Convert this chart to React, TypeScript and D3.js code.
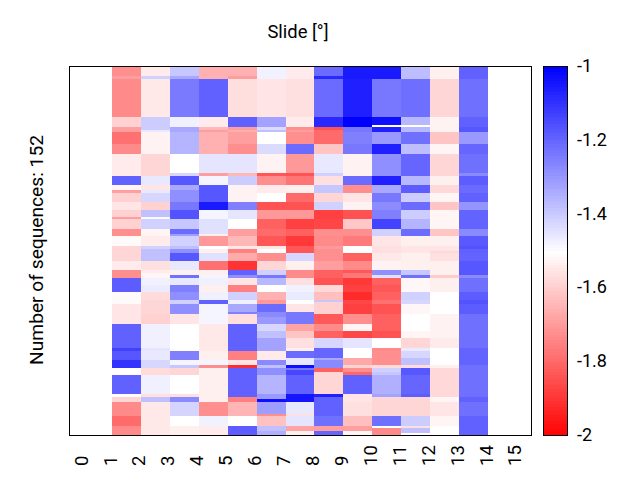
import React from "react";
import * as d3 from "d3";

// Each column: runs of [row index where the run ends, value]
const col1 = [[4,-1.72],[5,-1.69],[21,-1.73],[25,-1.59],[27,-1.69],[32,-1.78],[36,-1.73],[45,-1.54],[49,-1.19],[51,-1.52],[52,-1.69],[56,-1.59],[59,-1.55],[62,-1.59],[63,-1.69],[67,-1.59],[70,-1.72],[74,-1.51],[80,-1.58],[84,-1.54],[87,-1.72],[93,-1.18],[98,-1.51],[106,-1.55],[116,-1.19],[117,-1.125],[121,-1.17],[124,-1.1],[127,-1.5],[135,-1.19],[136,-1.5],[138,-1.58],[144,-1.73],[148,-1.79],[152,-1.73]];
const col2 = [[4,-1.54],[5,-1.41],[21,-1.545],[26,-1.4],[27,-1.455],[36,-1.525],[45,-1.58],[49,-1.455],[51,-1.55],[52,-1.455],[56,-1.42],[59,-1.59],[62,-1.376],[63,-1.49],[67,-1.41],[70,-1.52],[74,-1.54],[75,-1.41],[80,-1.376],[84,-1.56],[85,-1.54],[87,-1.52],[90,-1.47],[93,-1.46],[96,-1.57],[102,-1.58],[106,-1.59],[116,-1.47],[117,-1.45],[121,-1.455],[124,-1.42],[127,-1.57],[135,-1.47],[136,-1.56],[138,-1.376],[152,-1.545]];
const col3 = [[4,-1.39],[5,-1.33],[21,-1.24],[25,-1.47],[27,-1.33],[36,-1.355],[44,-1.5],[45,-1.42],[49,-1.17],[51,-1.33],[56,-1.28],[59,-1.235],[63,-1.16],[67,-1.39],[69,-1.21],[70,-1.31],[74,-1.41],[75,-1.376],[77,-1.28],[80,-1.17],[84,-1.455],[86,-1.53],[87,-1.22],[90,-1.455],[93,-1.25],[96,-1.28],[98,-1.41],[102,-1.28],[106,-1.55],[117,-1.5],[121,-1.25],[123,-1.48],[124,-1.39],[127,-1.58],[135,-1.5],[136,-1.56],[138,-1.27],[144,-1.415],[148,-1.5],[152,-1.53]];
const col4 = [[5,-1.655],[21,-1.19],[25,-1.54],[26,-1.64],[27,-1.69],[36,-1.655],[44,-1.45],[45,-1.69],[49,-1.48],[56,-1.17],[59,-1.05],[63,-1.48],[69,-1.44],[70,-1.53],[74,-1.7],[75,-1.5],[77,-1.53],[80,-1.44],[84,-1.78],[86,-1.53],[87,-1.48],[90,-1.47],[93,-1.53],[96,-1.47],[98,-1.19],[106,-1.48],[117,-1.545],[121,-1.53],[123,-1.48],[124,-1.72],[135,-1.53],[138,-1.53],[144,-1.72],[148,-1.475],[150,-1.535],[152,-1.54]];
const col5 = [[4,-1.655],[5,-1.69],[21,-1.565],[25,-1.19],[26,-1.695],[27,-1.655],[32,-1.69],[36,-1.72],[44,-1.45],[45,-1.64],[49,-1.4],[56,-1.525],[59,-1.25],[63,-1.45],[67,-1.5],[70,-1.69],[74,-1.64],[75,-1.55],[77,-1.75],[80,-1.665],[84,-1.9],[86,-1.19],[87,-1.28],[90,-1.55],[93,-1.75],[96,-1.41],[98,-1.47],[101,-1.33],[102,-1.25],[106,-1.565],[117,-1.19],[121,-1.75],[123,-1.55],[124,-1.91],[136,-1.19],[138,-1.75],[144,-1.645],[148,-1.5],[152,-1.18]];
const col6 = [[5,-1.475],[21,-1.55],[25,-1.32],[26,-1.43],[27,-1.376],[32,-1.5],[36,-1.43],[44,-1.525],[45,-1.83],[49,-1.72],[52,-1.54],[56,-1.5],[59,-1.84],[63,-1.7],[67,-1.81],[70,-1.79],[74,-1.83],[75,-1.545],[77,-1.5],[80,-1.72],[84,-1.58],[86,-1.41],[87,-1.235],[90,-1.36],[93,-1.5],[96,-1.655],[98,-1.7],[101,-1.21],[103,-1.27],[106,-1.3],[109,-1.42],[112,-1.376],[117,-1.32],[121,-1.54],[123,-1.27],[124,-1.376],[127,-1.28],[135,-1.355],[137,-1.3],[138,-1.03],[143,-1.31],[144,-1.72],[148,-1.62],[150,-1.376],[152,-1.345]];
const col7 = [[5,-1.54],[21,-1.56],[25,-1.54],[26,-1.72],[27,-1.69],[32,-1.72],[36,-1.21],[44,-1.7],[45,-1.84],[49,-1.77],[52,-1.53],[56,-1.79],[59,-1.84],[63,-1.7],[67,-1.875],[70,-1.81],[74,-1.89],[77,-1.83],[80,-1.42],[84,-1.53],[87,-1.73],[90,-1.56],[93,-1.475],[96,-1.46],[98,-1.5],[101,-1.55],[106,-1.235],[109,-1.68],[112,-1.615],[116,-1.56],[117,-1.53],[120,-1.21],[123,-1.455],[124,-1.03],[125,-1.235],[127,-1.14],[135,-1.19],[138,-1.04],[143,-1.455],[144,-1.56],[148,-1.45],[150,-1.68],[152,-1.53]];
const col8 = [[4,-1.21],[5,-1.08],[21,-1.21],[25,-1.08],[26,-1.84],[32,-1.79],[36,-1.615],[44,-1.455],[45,-1.41],[49,-1.56],[52,-1.39],[56,-1.58],[59,-1.41],[63,-1.875],[67,-1.865],[70,-1.72],[74,-1.73],[75,-1.7],[77,-1.72],[80,-1.72],[84,-1.69],[87,-1.81],[90,-1.84],[93,-1.575],[96,-1.625],[97,-1.39],[102,-1.59],[106,-1.825],[109,-1.73],[112,-1.81],[116,-1.42],[120,-1.2],[121,-1.33],[124,-1.27],[126,-1.81],[135,-1.58],[136,-1.06],[144,-1.19],[148,-1.22],[150,-1.69],[152,-1.2]];
const col9 = [[5,-1.05],[21,-1.06],[25,-1],[27,-1.235],[32,-1.25],[36,-1.235],[45,-1.525],[49,-1.21],[52,-1.72],[56,-1.55],[59,-1.525],[63,-1.84],[67,-1.61],[70,-1.72],[74,-1.76],[77,-1.5],[80,-1.81],[84,-1.73],[85,-1.83],[87,-1.765],[90,-1.89],[93,-1.875],[96,-1.915],[98,-1.86],[102,-1.875],[106,-1.72],[109,-1.52],[112,-1.86],[116,-1.45],[120,-1.5],[123,-1.67],[124,-1.59],[126,-1.72],[127,-1.8],[135,-1.19],[138,-1.55],[144,-1.56],[148,-1.625],[150,-1.69],[152,-1.52]];
const col10 = [[5,-1.05],[21,-1.235],[24,-1.03],[25,-1.5],[27,-1.06],[32,-1.3],[36,-1.06],[45,-1.28],[49,-1.06],[52,-1.33],[56,-1.235],[59,-1.275],[63,-1.25],[67,-1.13],[70,-1.41],[74,-1.55],[77,-1.56],[80,-1.545],[84,-1.525],[86,-1.28],[87,-1.44],[90,-1.81],[93,-1.83],[96,-1.81],[98,-1.78],[102,-1.84],[109,-1.81],[112,-1.84],[116,-1.5],[117,-1.73],[123,-1.72],[124,-1.57],[126,-1.41],[127,-1.39],[135,-1.345],[136,-1.32],[144,-1.58],[148,-1.22],[149,-1.5],[152,-1.73]];
const col11 = [[5,-1.37],[21,-1.215],[24,-1.36],[25,-1.5],[27,-1.36],[32,-1.22],[36,-1.37],[45,-1.2],[49,-1.36],[52,-1.18],[56,-1.4],[59,-1.21],[63,-1.4],[67,-1.355],[70,-1.21],[74,-1.53],[77,-1.55],[80,-1.53],[84,-1.53],[86,-1.39],[87,-1.22],[93,-1.515],[96,-1.41],[98,-1.42],[102,-1.515],[109,-1.5],[112,-1.52],[116,-1.58],[117,-1.46],[120,-1.42],[123,-1.376],[124,-1.57],[127,-1.17],[135,-1.2],[136,-1.18],[144,-1.58],[148,-1.4],[149,-1.565],[151,-1.376],[152,-1.5]];
const col12 = [[5,-1.53],[21,-1.58],[27,-1.525],[32,-1.615],[36,-1.52],[45,-1.58],[49,-1.53],[52,-1.575],[56,-1.52],[59,-1.615],[67,-1.52],[70,-1.615],[74,-1.53],[76,-1.55],[77,-1.575],[80,-1.56],[86,-1.53],[87,-1.6],[93,-1.53],[102,-1.5],[112,-1.525],[116,-1.54],[123,-1.5],[124,-1.53],[136,-1.575],[138,-1.52],[144,-1.55],[148,-1.52],[152,-1.5]];
const col13 = [[5,-1.19],[21,-1.22],[25,-1.19],[27,-1.17],[32,-1.3],[36,-1.2],[44,-1.22],[45,-1.27],[49,-1.18],[52,-1.21],[56,-1.19],[59,-1.29],[67,-1.195],[70,-1.27],[74,-1.175],[75,-1.16],[77,-1.19],[80,-1.195],[86,-1.17],[87,-1.27],[93,-1.22],[96,-1.18],[98,-1.16],[102,-1.18],[116,-1.22],[123,-1.195],[136,-1.22],[138,-1.19],[144,-1.22],[152,-1.19]];

const columns = [col1,col2,col3,col4,col5,col6,col7,col8,col9,col10,col11,col12,col13];
const firstColumn = 1;
const rowCount = 152;
const xTickLabels = d3.range(0, 16);
const cbTicks = [-1, -1.2, -1.4, -1.6, -1.8, -2];
const titleText = "Slide [°]";
const yLabelText = "Number of sequences: 152";

const L = 70, R = 531, T = 66.5, B = 435.5;
const FONT = "Roboto, sans-serif";

export default function App() {
  const x = d3.scaleLinear().domain([1, 14]).range([112, 488]);
  const y = d3.scaleLinear().domain([0, rowCount]).range([T, B]);
  const color = d3.scaleLinear<string>().domain([-2, -1.5, -1]).range(["#ff0000", "#ffffff", "#0000ff"]);
  const cbY = d3.scaleLinear().domain([-1, -2]).range([T, B]);
  const cbLevels = d3.range(0, 128).map((i) => -1 - i / 128);

  return (
    <svg width={640} height={480} style={{ position: "absolute", left: 0, top: 0, background: "#fff" }} fontFamily={FONT}>
      <g shapeRendering="crispEdges">
        {columns.map((runs, c) => {
          let start = 0;
          return runs.map(([end, v], i) => {
            const r = (
              <rect key={`${c}-${i}`} x={x(c + firstColumn)} width={x(c + firstColumn + 1) - x(c + firstColumn)}
                y={y(start)} height={y(end) - y(start)} fill={color(v)} />
            );
            start = end;
            return r;
          });
        })}
      </g>
      <rect x={L - 0.5} y={T} width={R - L + 1} height={B - T} fill="none" stroke="#000" strokeWidth={1} shapeRendering="crispEdges" />
      {xTickLabels.map((t) => (
        <text key={t} transform={`translate(${x(t) - 2 + 6.5},466) rotate(-90)`} fontSize={18.5} fill="#000">{t}</text>
      ))}
      <text x={298} y={38} textAnchor="middle" fontSize={18.4} fill="#000">{titleText}</text>
      <text transform="translate(43,250) rotate(-90)" textAnchor="middle" fontSize={19.2} fill="#000">{yLabelText}</text>
      <g shapeRendering="crispEdges">
        {cbLevels.map((v, i) => (
          <rect key={i} x={543} width={25} y={cbY(v)} height={(B - T) / 128 + 0.5} fill={color(v)} />
        ))}
      </g>
      <rect x={543.5} y={T} width={24} height={B - T} fill="none" stroke="#000" strokeWidth={1} shapeRendering="crispEdges" />
      {cbTicks.map((t) => (
        <text key={t} x={577} y={cbY(t) + 5.5} fontSize={18} fill="#000">{t}</text>
      ))}
    </svg>
  );
}
